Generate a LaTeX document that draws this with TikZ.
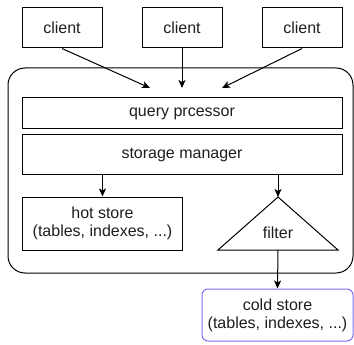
\documentclass[tikz,border=0pt]{standalone}
\usepackage{fontspec}
\setmainfont{Liberation Sans}
\usetikzlibrary{arrows.meta}
\definecolor{coldblue}{RGB}{122,110,245}
\definecolor{txt}{RGB}{30,30,30}
\tikzset{
  box/.style={draw=black, line width=1pt, rectangle, inner sep=0pt, align=center,
              text=txt, font=\fontsize{16pt}{18pt}\selectfont},
  arr/.style={line width=1pt, -{Stealth[length=8pt,width=7pt,inset=2pt]}},
  lbl/.style={align=center, text=txt, font=\fontsize{16pt}{18pt}\selectfont, inner sep=0pt},
}
\begin{document}
\begin{tikzpicture}[x=1pt,y=-1pt]
\useasboundingbox (0,0) rectangle (354,345);
% outer container
\draw[line width=1pt, rounded corners=17pt] (8,68) rectangle (353,273);
% clients
\node[box, minimum width=80pt, minimum height=40pt] (c1) at (62,28) {client};
\node[box, minimum width=80pt, minimum height=40pt] (c2) at (182,28) {client};
\node[box, minimum width=80pt, minimum height=40pt] (c3) at (302,28) {client};
% query processor & storage manager
\node[box, minimum width=320pt, minimum height=31pt] (qp) at (182,113.5) {query prcessor};
\node[box, minimum width=320pt, minimum height=40pt] (sm) at (182,155) {storage manager};
% hot store
\node[box, minimum width=160pt, minimum height=53pt] (hs) at (102.5,223.5) {hot store\\(tables, indexes, ...)};
% filter triangle
\coordinate (fa) at (278,197);
\coordinate (fl) at (218,250);
\coordinate (fr) at (338,250);
\coordinate (fb) at (278,250);
\draw[line width=1pt] (fl) -- (fa) -- (fr) -- cycle;
\node[lbl] (flt) at (278,233) {filter};
% cold store
\node[box, draw=coldblue, rounded corners=6pt, minimum width=151pt, minimum height=52pt] (cs) at (277.5,315) {cold store\\(tables, indexes, ...)};
% arrows from clients
\coordinate (t1) at (150,88);
\coordinate (t2) at (182,88);
\coordinate (t3) at (222,88);
\draw[arr] (c1.south) -- (t1);
\draw[arr] (c2.south) -- (t2);
\draw[arr] (c3.south) -- (t3);
% arrows from storage manager
\draw[arr] (sm.south -| hs.north) -- (hs.north);
\draw[arr] (sm.south -| fa) -- (fa);
% filter to cold store
\draw[arr] (fb) -- (cs.north);
\end{tikzpicture}
\end{document}
